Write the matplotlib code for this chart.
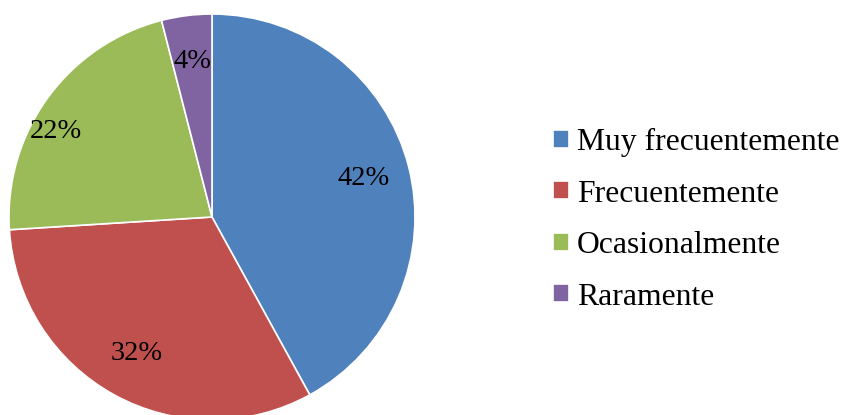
import matplotlib.pyplot as plt

# datos del gráfico
categorias = ['Muy frecuentemente', 'Frecuentemente', 'Ocasionalmente', 'Raramente']
porcentajes = [42, 32, 22, 4]
colores = ['#4F81BD', '#C0504D', '#9BBB59', '#8064A2']

plt.rcParams['font.family'] = ['Liberation Serif', 'DejaVu Serif']

fig = plt.figure(figsize=(8.46, 4.15), dpi=100)
# axes del pastel: centro ~ (212, 217) px, radio ~ 203 px
ax = fig.add_axes([9/846, -5/415, 406/846, 406/415])

wedges, textos, autotextos = ax.pie(
    porcentajes, colors=colores, startangle=90, counterclock=False,
    autopct='%d%%', pctdistance=0.77,
    wedgeprops=dict(edgecolor='white', linewidth=1.2),
    textprops=dict(fontsize=20.5, color='black'))
# la etiqueta de 22% queda algo más afuera, como en Excel
autotextos[2].set_position((-0.77, 0.42))
ax.set_xlim(-1, 1)
ax.set_ylim(-1, 1)
ax.set_aspect('equal')

fig.legend(wedges, categorias, loc='center left', bbox_to_anchor=(553/846, 0.47),
           frameon=False, fontsize=22.8, borderpad=0, borderaxespad=0,
           handlelength=0.5, handleheight=0.5, handletextpad=0.25,
           labelspacing=0.71)

fig.savefig('out.png', dpi=100)
